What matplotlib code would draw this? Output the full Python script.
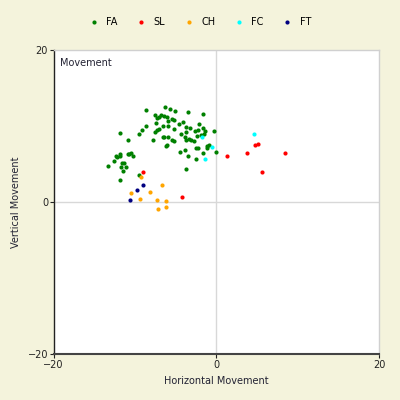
import matplotlib
matplotlib.use("Agg")
import matplotlib.pyplot as plt

fa_x = [-13.3, -12.6, -12.2, -11.8, -11.8, -10.8, -11.6, -11.3, -11.7, -11.1, -11.5, -11.9,
        -10.7, -10.5, -10.2, -9.5, -9.5, -9.1, -8.7, -8.6, -7.8, -7.6, -7.4, -7.5, -7.3,
        -7.1, -7.1, -6.8, -6.3, -6.4, -6.1, -5.9, -6.5, -6.0, -5.7, -5.1, -5.4, -5.2, -6.4,
        -5.9, -5.5, -5.2, -6.2, -4.6, -5.2, -4.1, -3.5, -3.7, -3.3, -4.4, -3.7, -3.8, -3.4,
        -3.7, -3.1, -2.8, -2.4, -2.6, -2.3, -2.1, -1.7, -1.6, -1.4, -1.9, -1.5, -0.3, -2.5,
        -2.2, -1.2, -0.9, -1.2, -0.1, -1.7, -2.5, -3.5, -3.8, -4.5, -3.7, -7.3, -12.3,
        -6.1, -6.5, -11.8, -10.8]
fa_y = [4.8, 5.4, 5.9, 6.3, 9.1, 8.1, 5.1, 5.1, 4.6, 4.6, 4.1, 2.9,
        6.3, 6.4, 6.1, 3.6, 9.0, 9.5, 12.1, 10.0, 8.2, 11.4, 10.4, 9.2, 9.5,
        11.2, 9.6, 11.5, 12.5, 11.3, 11.2, 10.6, 10.0, 10.0, 12.2, 12.0, 10.9, 10.8, 8.5,
        8.6, 8.2, 8.0, 7.4, 10.3, 9.6, 10.5, 11.9, 9.9, 9.7, 8.9, 9.2, 8.5, 8.3,
        8.1, 8.2, 8.0, 8.7, 9.3, 9.5, 10.2, 11.6, 9.8, 9.4, 8.8, 9.0, 9.3, 7.1,
        7.1, 7.1, 7.5, 7.4, 6.6, 6.4, 5.6, 6.1, 6.9, 6.6, 4.3, 11.1, 6.0,
        7.5, 8.5, 6.0, 6.3]
sl_x = [-9.0, -4.2, 1.3, 3.8, 4.8, 5.1, 8.4, 5.6]
sl_y = [4.0, 0.6, 6.1, 6.4, 7.5, 7.6, 6.4, 4.0]
ch_x = [-9.3, -10.5, -8.2, -6.7, -9.4, -7.3, -6.2, -6.2, -7.2]
ch_y = [3.3, 1.2, 1.3, 2.3, 0.4, 0.3, 0.1, -0.6, -0.9]
fc_x = [-1.8, -0.6, -1.4, 4.6]
fc_y = [8.6, 7.2, 5.7, 9.0]
ft_x = [-10.6, -9.8, -9.0]
ft_y = [0.2, 1.6, 2.3]

series = [("FA", fa_x, fa_y, "#008000"),
          ("SL", sl_x, sl_y, "#FF0000"),
          ("CH", ch_x, ch_y, "#FFA500"),
          ("FC", fc_x, fc_y, "#00FFFF"),
          ("FT", ft_x, ft_y, "#000080")]

bg = "#F4F3DC"
fig = plt.figure(figsize=(4, 4), dpi=100, facecolor=bg)
ax = fig.add_axes([0.134, 0.115, 0.814, 0.76])
ax.set_facecolor("white")

for name, xs, ys, c in series:
    ax.scatter(xs, ys, s=9, color=c, label=name, linewidths=0, zorder=3)

ax.axhline(0, color="#D8D8D8", lw=1, zorder=1)
ax.axvline(0, color="#D8D8D8", lw=1, zorder=1)

ax.set_xlim(-20, 20)
ax.set_ylim(-20, 20)
ax.set_xticks([-20, 0, 20])
ax.set_yticks([-20, 0, 20])
ax.tick_params(labelsize=7, length=3, width=0.8, pad=1, colors="#222222")

for s in ["top", "right"]:
    ax.spines[s].set_color("#D0D0D0")
    ax.spines[s].set_linewidth(1)
ax.spines["left"].set_color("#222222")
ax.spines["left"].set_linewidth(1)
ax.spines["bottom"].set_color("#444444")
ax.spines["bottom"].set_linewidth(1.5)

ax.set_xlabel("Horizontal Movement", fontsize=7, labelpad=5, color="#222233")
ax.set_ylabel("Vertical Movement", fontsize=7, color="#222233")
ax.yaxis.set_label_coords(-0.1, 0.5)
ax.text(0.02, 0.975, "Movement", transform=ax.transAxes, fontsize=7,
        va="top", ha="left", color="#222233")

fig.legend(loc="center", bbox_to_anchor=(0.5, 0.945), ncol=5, frameon=False,
           fontsize=7, markerscale=1.0, handletextpad=0.8, columnspacing=1.9,
           handlelength=1.0, scatterpoints=1)

fig.savefig("out.png", dpi=100, facecolor=bg)
